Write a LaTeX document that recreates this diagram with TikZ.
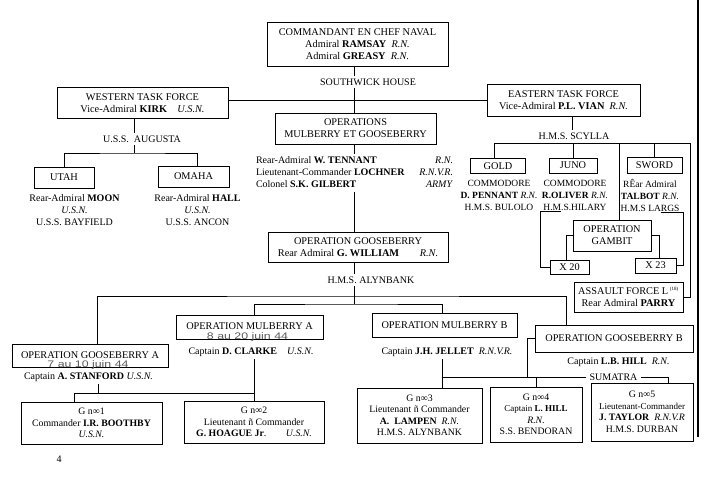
\documentclass[tikz,border=0pt]{standalone}
\usepackage{fontspec}
\setmainfont{Liberation Serif}
\newfontfamily\datefont[FakeStretch=1.3]{Liberation Sans}
\usepackage{tikz}

\begin{document}
\begin{tikzpicture}[x=1pt, y=-1pt, line width=0.8pt,
    box/.style={draw, align=center, inner sep=1pt, font=\fontsize{10.3}{12}\selectfont},
    gbox/.style={box, font=\fontsize{9.8}{11.5}\selectfont},
    caption/.style={align=center, inner sep=2pt, font=\fontsize{10}{12}\selectfont},
    smallcaption/.style={caption, inner sep=1pt, font=\fontsize{9.5}{12}\selectfont},
    datetext/.style={inner sep=0pt, text=black!65, font=\datefont\fontsize{9.5}{11}\selectfont}]
    \useasboundingbox (0,0) rectangle (709,477);

    \node[box, minimum width=181pt, minimum height=44pt] at (357.5, 44) (cmd) {COMMANDANT EN CHEF NAVAL\\Admiral \textbf{RAMSAY}\enspace\textit{R.N.}\\Admiral \textbf{GREASY}\enspace\textit{R.N.}};
    \node[caption] at (368, 82) (southwick) {SOUTHWICK HOUSE};
    \node[box, minimum width=171pt, minimum height=31pt] at (142.5, 103) (western) {WESTERN TASK FORCE\\Vice-Admiral \textbf{KIRK}\quad\textit{U.S.N.}};
    \node[box, minimum width=153pt, minimum height=32pt] at (563.5, 100.5) (eastern) {EASTERN TASK FORCE\\Vice-Admiral \textbf{P.L. VIAN}\enspace\textit{R.N.}};
    \node[box, minimum width=161pt, minimum height=31pt] at (355.5, 128.5) (ops) {OPERATIONS\\MULBERRY ET GOOSEBERRY};
    \node[caption, inner sep=1pt] at (354.5, 173) (tennantCap) {\begin{tabular*}{197pt}{@{}l@{\extracolsep{\fill}}r@{}}
        Rear-Admiral \textbf{W. TENNANT} & \textit{R.N.}\\
        Lieutenant-Commander \textbf{LOCHNER} & \textit{R.N.V.R.}\\
        Colonel \textbf{S.K. GILBERT} & \textit{ARMY}
      \end{tabular*}};

    \node[caption] at (142, 139) (augusta) {U.S.S.\ \ AUGUSTA};
    \node[box, minimum width=60pt, minimum height=21pt] at (64, 177.5) (utah) {UTAH};
    \node[box, minimum width=71pt, minimum height=21pt] at (193.5, 176.5) (omaha) {OMAHA};
    \node[caption] at (74.5, 210.5) (moonCap) {Rear-Admiral \textbf{MOON}\\\textit{U.S.N.}\\U.S.S. BAYFIELD};
    \node[caption] at (197.5, 210.5) (hallCap) {Rear-Admiral \textbf{HALL}\\\textit{U.S.N.}\\U.S.S. ANCON};

    \node[caption] at (574, 136) (scylla) {H.M.S. SCYLLA};
    \node[box, minimum width=55pt, minimum height=15pt] at (498, 166) (gold) {GOLD};
    \node[box, minimum width=48pt, minimum height=15pt] at (573, 165.5) (juno) {JUNO};
    \node[box, minimum width=55pt, minimum height=16pt] at (654.5, 165) (sword) {SWORD};
    \node[smallcaption] at (499, 195) (goldCap) {COMMODORE\\\textbf{D. PENNANT} \textit{R.N.}\\H.M.S. BULOLO};
    \node[smallcaption] at (575, 195) (junoCap) {COMMODORE\\\textbf{R.OLIVER} \textit{R.N.}\\H.M.S.HILARY};
    \node[smallcaption] at (650, 195) (swordCap) {RÊar Admiral\\\textbf{TALBOT} \textit{R.N.}\\H.M.S LARGS};
    \node[box, minimum width=78pt, minimum height=31pt] at (612, 235.5) (gambit) {OPERATION\\GAMBIT};
    \node[box, minimum width=39pt, minimum height=14pt] at (569.5, 267) (xTwenty) {X 20};
    \node[box, minimum width=41pt, minimum height=15pt] at (655.5, 265.5) (xTwentyThree) {X 23};
    \node[box, minimum width=109pt, minimum height=30pt] at (628.5, 297) (assault) {ASSAULT FORCE L\,\textsuperscript{\tiny(18)}\\Rear Admiral \textbf{PARRY}};

    \node[box, minimum width=180pt, minimum height=30pt] at (358, 247) (goose) {OPERATION GOOSEBERRY\\Rear Admiral \textbf{G. WILLIAM}\qquad\textit{R.N.}};
    \node[caption] at (371, 280) (alynbank) {H.M.S. ALYNBANK};

    \node[box, minimum width=156pt, minimum height=23pt] at (90, 355.5) (gooA) {OPERATION GOOSEBERRY A};
    \node[datetext, anchor=base] at (88, 367) (gooADate) {7 au 10 juin 44};
    \node[caption] at (88.5, 377) (stanfordCap) {Captain \textbf{A. STANFORD} \textit{U.S.N.}};
    \node[box, minimum width=147pt, minimum height=24pt, text depth=1.5pt] at (249.5, 327) (mulA) {OPERATION MULBERRY A};
    \node[datetext, anchor=base] at (247.5, 339) (mulADate) {8 au 20 juin 44};
    \node[caption] at (251, 352) (clarkeCap) {Captain \textbf{D. CLARKE}\quad\textit{U.S.N.}};
    \node[box, minimum width=145pt, minimum height=24pt] at (444.5, 325) (mulB) {OPERATION MULBERRY B};
    \node[caption] at (447, 352) (jelletCap) {Captain \textbf{J.H. JELLET}\enspace\textit{R.N.V.R.}};
    \node[box, minimum width=158pt, minimum height=27pt] at (614, 338.5) (gooB) {OPERATION GOOSEBERRY B};
    \node[caption] at (618.5, 362) (hillCap) {Captain \textbf{L.B. HILL}\enspace\textit{R.N.}};
    \node[caption, inner sep=3pt] at (613.5, 377) (sumatra) {SUMATRA};

    \node[gbox, minimum width=141pt, minimum height=42pt] at (91.5, 423) (gOne) {G n∞1\\Commander \textbf{I.R. BOOTHBY}\\\textit{U.S.N.}};
    \node[gbox, minimum width=140pt, minimum height=42pt] at (254, 422) (gTwo) {G n∞2\\Lieutenant ñ Commander\\\textbf{G. HOAGUE Jr}.\qquad\textit{U.S.N.}};
    \node[gbox, minimum width=125pt, minimum height=55pt] at (419.5, 415.5) (gThree) {G n∞3\\Lieutenant ñ Commander\\\textbf{A.\ \ LAMPEN}\enspace\textit{R.N.}\\H.M.S. ALYNBANK};
    \node[gbox, minimum width=92pt, minimum height=55pt] at (536, 414.5) (gFour) {G n∞4\\{\small Captain \textbf{L. HILL}}\\\textit{R.N.}\\S.S. BENDORAN};
    \node[gbox, minimum width=102pt, minimum height=58pt] at (642, 412) (gFive) {G n∞5\\{\fontsize{9}{11}\selectfont Lieutenant-Commander}\\\textbf{J. TAYLOR}\enspace\textit{R.N.V.R}\\H.M.S. DURBAN};
    \node[caption] at (59, 459) (pageNum) {4};

    \coordinate (spine) at (354, 0);
    \coordinate (splitOuter) at (354, 296);
    \coordinate (splitInner) at (354, 304);
    \draw (cmd.south -| spine) -- (southwick.north -| spine);
    \draw (southwick.south -| spine) -- (ops.north -| spine);
    \draw (western.east |- eastern.west) -- (eastern.west);
    \draw (ops.south -| spine) -- (tennantCap.north -| spine);
    \draw (tennantCap.south -| spine) -- (goose.north -| spine);
    \draw (goose.south -| spine) -- (alynbank.north -| spine);
    \draw (alynbank.south -| spine) -- (splitInner);
    \draw ([xshift=7pt]gooA.north) |- (splitOuter) -| ([xshift=32pt]gooB.north west);
    \draw ([xshift=4.5pt]mulA.north) |- (splitInner) -| ([xshift=-2.5pt]mulB.north);

    \coordinate (wCol) at (134, 0);
    \coordinate (wSplit) at (134, 153);
    \draw (western.south -| wCol) -- (augusta.north -| wCol);
    \draw (augusta.south -| wCol) -- (wSplit);
    \draw (utah.north) |- (wSplit) -| ([xshift=3.5pt]omaha.north);

    \coordinate (eCol) at (572, 0);
    \coordinate (sRight) at (690, 143);
    \draw (eastern.south -| eCol) -- (scylla.north -| eCol);
    \draw ([xshift=-4pt]gold.north) |- (sRight) |- (assault.east);
    \draw (juno.north) -- (juno.north |- sRight);
    \draw (sword.north) -- (sword.north |- sRight);
    \draw ([xshift=7pt]gambit.north) -- ([xshift=7pt]gambit.north |- sRight);
    \draw (gambit.west) -| ([xshift=-3.5pt]xTwenty.north);
    \draw (gambit.east) -| ([xshift=3.5pt]xTwentyThree.north);
    \draw ([xshift=20pt]junoCap.south west) -- (junoCap.south west) |- (xTwenty.west);
    \draw ([xshift=-20pt]swordCap.south east) -- ([xshift=3pt]swordCap.south east) |- (xTwentyThree.east);

    \coordinate (gJoin) at (254, 393);
    \draw (clarkeCap.south -| gJoin) -- (gTwo.north);
    \draw ([xshift=-17.5pt]gOne.north) |- (gJoin);
    \draw ([xshift=9.5pt]stanfordCap.south) -- ([xshift=9.5pt]stanfordCap.south |- gJoin);

    \coordinate (sJoin) at (442, 377);
    \coordinate (bJoin) at (527, 377);
    \draw (jelletCap.south -| sJoin) -- ([xshift=22.5pt]gThree.north);
    \draw (sJoin) -- (sumatra.west);
    \draw (sumatra.east) -| ([xshift=26pt]gFive.north);
    \draw (gooB.west) -| (bJoin);
    \draw (gFour.north) -- (gFour.north |- sJoin);

    \draw[line width=1.5pt] (698, 0) -- (698, 437);
\end{tikzpicture}
\end{document}
